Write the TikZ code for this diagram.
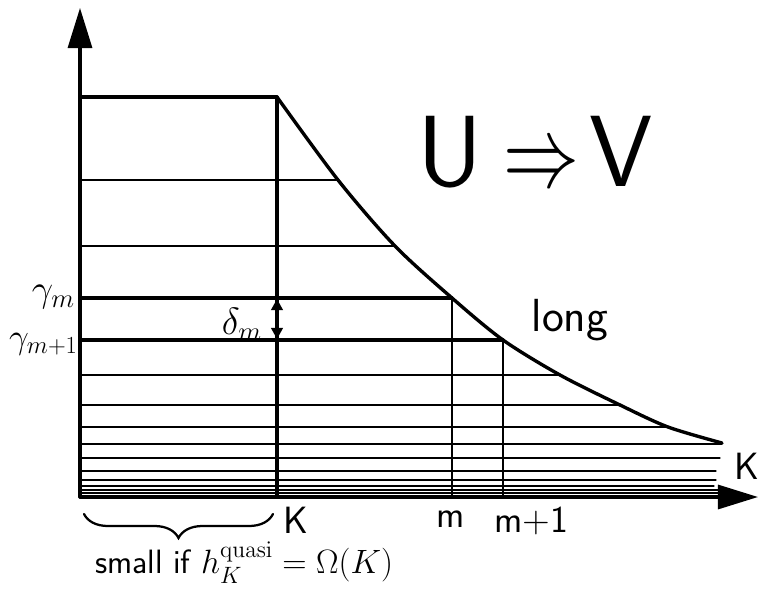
\RequirePackage{fix-cm}
\documentclass[tikz,border=0pt]{standalone}
\usepackage{amsmath}
\usepackage{amssymb}
\usepackage{tikz}
\usetikzlibrary{arrows.meta, calc, positioning, decorations.pathreplacing}

\begin{document}
\begin{tikzpicture}[x=0.025cm, y=-0.025cm, line cap=round,
    axis/.style={line width=2.2pt, -{Triangle[length=1.0cm, width=0.6cm]}},
    lbl/.style={inner sep=0pt, font=\sffamily\fontsize{27}{30}\selectfont}]
    \useasboundingbox (0,0) rectangle (764,592);
    \coordinate (O) at (80,497);
    \coordinate (ytip) at (80,8);
    \coordinate (xtip) at (758,497);
    % levels below the curve
    \foreach \y/\xe/\w in {97/277/2.2, 180/338/1.5, 246/395/1.5, 298/452/2.2, 340/503/2.2,
        375/560/1.3, 405/620/1.3, 427/668/1.2, 444/722/1.1, 458/720/0.9, 471/716/0.9,
        480/716/0.8, 486/714/0.8, 490/718/0.8, 493/718/0.8}
        \draw[line width=\w pt] (80,\y) -- (\xe,\y);
    \draw[line width=2.4pt] plot[smooth] coordinates {(277,97) (338,180) (395,246)
        (452,298) (503,340) (560,375) (620,405) (668,427) (722,443)};
    \coordinate (Ktop) at (277,97);
    \coordinate (Kbot) at (277,497);
    \coordinate (mtop) at (452,298);
    \coordinate (mbot) at (452,497);
    \coordinate (mptop) at (503,340);
    \coordinate (mpbot) at (503,497);
    \draw[line width=2.2pt] (Ktop) -- (Kbot);
    \draw[line width=1.4pt] (mtop) -- (mbot);
    \draw[line width=1.2pt] (mptop) -- (mpbot);
    \draw[axis] (O) -- (ytip);
    \draw[axis] (O) -- (xtip);
    % gap between two levels
    \coordinate (dtop) at (277,299);
    \coordinate (dbot) at (277,339);
    \draw[line width=1pt, {Triangle[length=0.28cm, width=0.3cm]}-{Triangle[length=0.28cm, width=0.3cm]}] (dtop) -- (dbot);
    \node[lbl, anchor=east] (dm) at (262,324) {$\delta_m$};
    \node[lbl, anchor=east] (gm) at (75,297) {$\gamma_m$};
    \node[lbl, anchor=east, font=\sffamily\fontsize{25}{28}\selectfont] (gm1) at (78,344) {$\gamma_{m+1}$};
    \node[lbl] (Klbl) at (296,520) {K};
    \node[lbl] (mlbl) at (451,519) {m};
    \node[lbl] (mplbl) at (531,521) {m+1};
    \node[lbl] (Kax) at (747,466) {K};
    \node[lbl, font=\sffamily\fontsize{33}{36}\selectfont] (long) at (570,320) {long};
    \node[inner sep=0pt, font=\sffamily\fontsize{72}{76}\selectfont] (uv) at (535,152) {U\hspace{0.2em}\scalebox{0.75}[1]{$\Rightarrow$}\hspace{0.1em}V};
    \coordinate (bl) at (84,514);
    \coordinate (br) at (273,514);
    \draw[line width=1.6pt, decorate, decoration={brace, mirror, amplitude=0.6cm}] (bl) -- (br);
    \node[lbl, anchor=west, font=\sffamily\fontsize{24}{28}\selectfont] (small) at (95,563) {small if $h_K^{\mathrm{quasi}}=\Omega(K)$};
\end{tikzpicture}
\end{document}
